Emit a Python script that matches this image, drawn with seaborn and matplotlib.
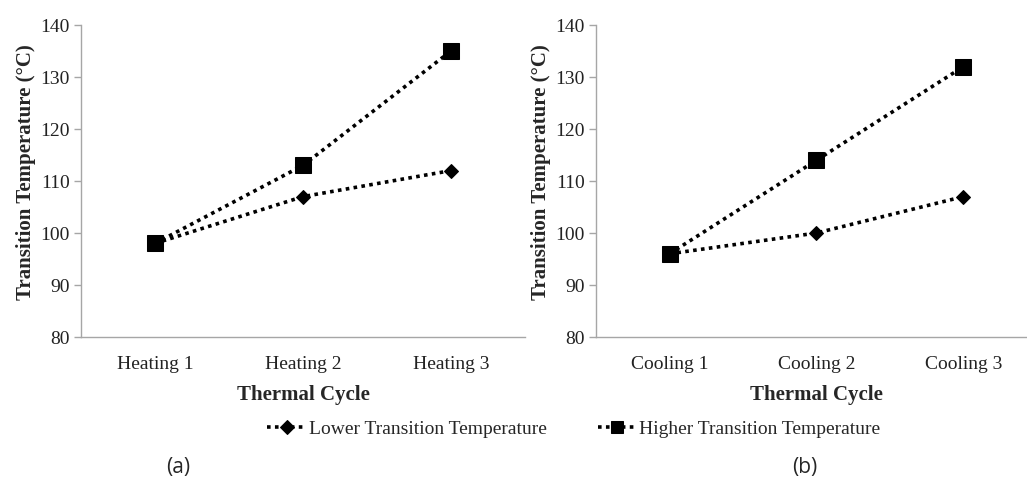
import matplotlib
matplotlib.use("Agg")
import matplotlib.pyplot as plt
import seaborn as sns
import pandas as pd

heating_cats = ["Heating 1", "Heating 2", "Heating 3"]
cooling_cats = ["Cooling 1", "Cooling 2", "Cooling 3"]
heating_lower = [98, 107, 112]
heating_higher = [98, 113, 135]
cooling_lower = [96, 100, 107]
cooling_higher = [96, 114, 132]
series_names = ["Lower Transition Temperature", "Higher Transition Temperature"]
y_ticks = [80, 90, 100, 110, 120, 130, 140]

sns.set_theme(style="white")
plt.rcParams['font.family'] = ['Liberation Serif', 'DejaVu Serif']

fig = plt.figure(figsize=(10.27, 4.79), dpi=100)
axA = fig.add_axes([81/1027, 1-337/479, 444/1027, 312/479])
axB = fig.add_axes([596/1027, 1-337/479, 441/1027, 312/479])

def make_df(cats, lower, higher):
    rows = []
    for c, v in zip(cats, lower):
        rows.append({"cat": c, "val": v, "series": series_names[0]})
    for c, v in zip(cats, higher):
        rows.append({"cat": c, "val": v, "series": series_names[1]})
    return pd.DataFrame(rows)

gray = "#a6a6a6"
for ax, cats, lo, hi in [(axA, heating_cats, heating_lower, heating_higher),
                         (axB, cooling_cats, cooling_lower, cooling_higher)]:
    df = make_df(cats, lo, hi)
    sns.lineplot(data=df, x="cat", y="val", hue="series", style="series",
                 markers={series_names[0]: "D", series_names[1]: "s"},
                 dashes={series_names[0]: (1, 1.2), series_names[1]: (1, 1.2)},
                 palette={series_names[0]: "black", series_names[1]: "black"},
                 linewidth=2.6, markersize=8, markeredgecolor="black",
                 ax=ax, legend=True, sort=False)
    for line in ax.get_lines():
        if line.get_marker() == "s":
            line.set_markersize(11)
        elif line.get_marker() == "D":
            line.set_markersize(7)
    ax.set_xlim(-0.5, 2.5)
    ax.set_ylim(80, 140)
    ax.set_yticks(y_ticks)
    ax.set_xticks([0, 1, 2])
    ax.set_xticklabels(cats)
    ax.set_xticks([-0.5, 0.5, 1.5, 2.5], minor=True)
    ax.tick_params(axis="x", which="major", length=0, pad=14, labelsize=14, labelcolor="#222222")
    ax.tick_params(axis="x", which="minor", length=5, color=gray, width=1, direction="out")
    ax.tick_params(axis="y", length=5, color=gray, width=1, direction="out", labelsize=14,
                   pad=3, left=True, labelcolor="#222222")
    for s in ["top", "right"]:
        ax.spines[s].set_visible(False)
    for s in ["left", "bottom"]:
        ax.spines[s].set_color(gray)
        ax.spines[s].set_linewidth(1)
    ax.set_xlabel("Thermal Cycle", fontsize=15, fontweight="bold", labelpad=8)
    ax.set_ylabel("Transition Temperature (°C)", fontsize=15, fontweight="bold")
    ax.grid(False)
    ax.get_legend().remove()

axA.yaxis.set_label_coords(-0.101, 0.53)
axB.yaxis.set_label_coords(-0.102, 0.53)

handles, labels = axA.get_legend_handles_labels()
for h in handles:
    h.set_linewidth(2.6)
    if h.get_marker() == "s":
        h.set_markersize(9)
    else:
        h.set_markersize(7)
fig.legend(handles, labels, loc="center", bbox_to_anchor=(574/1027, 1-429/479), ncol=2,
           frameon=False, fontsize=14, handlelength=2.0, handletextpad=0.15,
           columnspacing=2.6)

fig.text(178/1027, 1-467/479, "(a)", ha="center", va="center", fontsize=15, family="Open Sans")
fig.text(805/1027, 1-467/479, "(b)", ha="center", va="center", fontsize=15, family="Open Sans")

fig.savefig("out.png", dpi=100, facecolor="white")
